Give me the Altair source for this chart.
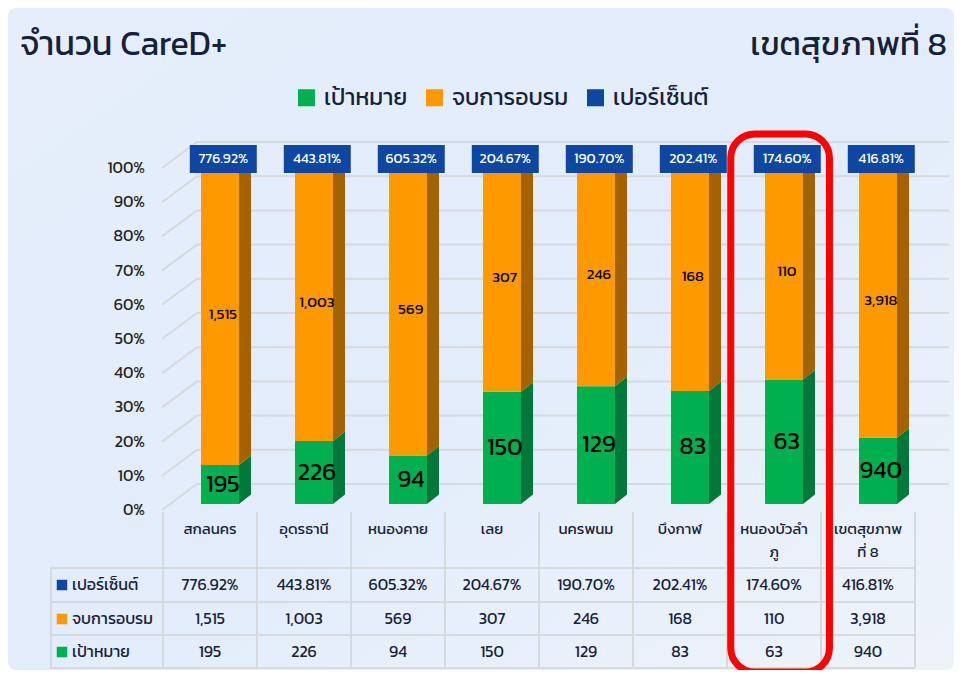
import altair as alt
import pandas as pd

# ---------------- data ----------------
categories = ["สกลนคร", "อุดรธานี", "หนองคาย", "เลย", "นครพนม", "บึงกาฬ", "หนองบัวลำภู", "เขตสุขภาพที่ 8"]
header_labels = ["สกลนคร", "อุดรธานี", "หนองคาย", "เลย", "นครพนม", "บึงกาฬ", "หนองบัวลำ\nภู", "เขตสุขภาพ\nที่ 8"]
target = [195, 226, 94, 150, 129, 83, 63, 940]
trained = [1515, 1003, 569, 307, 246, 168, 110, 3918]
percent = [776.92, 443.81, 605.32, 204.67, 190.70, 202.41, 174.60, 416.81]
series_names = ["เป้าหมาย", "จบการอบรม", "เปอร์เซ็นต์"]
series_colors = ["#00b050", "#ff9900", "#0d47a1"]
side_colors = ["#00783a", "#a56300"]
y_ticks = [0.0, 0.1, 0.2, 0.3, 0.4, 0.5, 0.6, 0.7, 0.8, 0.9, 1.0]
y_tick_labels = ["0%", "10%", "20%", "30%", "40%", "50%", "60%", "70%", "80%", "90%", "100%"]
highlight = "หนองบัวลำภู"
title_left = "จำนวน CareD+"
title_right = "เขตสุขภาพที่ 8"

FONT = "Kanit, 'Noto Sans Thai', 'Noto Sans Thai UI', Sarabun, Loma, 'Noto Sans', sans-serif"
TXT = "#16213a"

# ---------------- layout helpers (page pixel -> scale units) ----------------
W, H = 946, 662
COL0, COLW = 163.0, 94.0     # table first column left edge, column width
Y0, YH = 504.0, 342.0        # page y of 0% on bar face, pixels per 100%


def PX(px):
    return (px - COL0) / COLW


def PY(py):
    return (Y0 - py) / YH


xs = alt.Scale(domain=[PX(8), PX(8 + W)], range=[0, W], nice=False, zero=False)
ys = alt.Scale(domain=[PY(8 + H), PY(8)], range=[H, 0], nice=False, zero=False)

OFF = 10 / COLW      # bar front centre offset from column centre (3D depth)
HW = 19 / COLW       # half width of bar front face
DX = 12 / COLW       # side face width
RISE = 9.5 / YH      # side face rise
BACK = 20 / YH       # back wall offset
FRONT = 6 / YH       # front edge offset

# ---------------- derived tables ----------------
front_rows, side_rows, lab_rows = [], [], []
for i, (g, t) in enumerate(zip(target, trained)):
    gf = g / (g + t)
    c = i + 0.5 + OFF
    segs = [(series_names[0], 0.0, gf, side_colors[0], f"{g:,}", 24),
            (series_names[1], gf, 1.0, side_colors[1], f"{t:,}", 15)]
    for s, (name, lo, hi, sc, lab, fs) in enumerate(segs):
        front_rows.append(dict(series=name, x1=c - HW, x2=c + HW, lo=lo, hi=hi))
        key = f"{i}-{s}"
        side_rows.append(dict(key=key, c=sc, x=c + HW, lo=lo, hi=hi))
        side_rows.append(dict(key=key, c=sc, x=c + HW + DX, lo=lo + RISE, hi=hi + RISE))
        lab_rows.append(dict(x=c + 0.03, y=(lo + hi) / 2, text=lab, fs=fs))
front = pd.DataFrame(front_rows)
side = pd.DataFrame(side_rows)
labs = pd.DataFrame(lab_rows)

box = pd.DataFrame(dict(
    series=series_names[2],
    xc=[i + 0.5 + OFF + 0.035 for i in range(len(categories))],
    text=[f"{p:.2f}%" for p in percent],
))
box["x1"] = box["xc"] - 33.5 / COLW
box["x2"] = box["xc"] + 33.5 / COLW
box["y1"] = 1.0 + 17 / YH
box["y2"] = 1.0 - 11 / YH
box["yt"] = 1.0 + 3 / YH

grid = pd.DataFrame(dict(p=y_ticks, lab=y_tick_labels))
grid["yb"] = grid["p"] + BACK
grid["yf"] = grid["p"] - FRONT
grid["xf"] = PX(162)
grid["xb"] = PX(197)
grid["xe"] = PX(949)
grid["xl"] = PX(145)

# table lines
tl = []
for py in [568, 602, 635, 668]:
    tl.append(dict(x=PX(51), x2=PX(COL0 + COLW * len(categories)), y=PY(py), y2=PY(py)))
for k in range(len(categories) + 1):
    tl.append(dict(x=float(k), x2=float(k), y=PY(512), y2=PY(668)))
tl.append(dict(x=PX(51), x2=PX(51), y=PY(568), y2=PY(668)))
tlines = pd.DataFrame(tl)

hdr = pd.DataFrame(dict(x=[i + 0.5 for i in range(len(categories))], text=header_labels))
hdr["y"] = PY(522)

row_y = [PY(585), PY(619), PY(652)]
row_names = [series_names[2], series_names[1], series_names[0]]
row_cols = [series_colors[2], series_colors[1], series_colors[0]]
cells = []
for r, vals in enumerate([[f"{p:.2f}%" for p in percent], [f"{t:,}" for t in trained], [f"{g:,}" for g in target]]):
    for i, v in enumerate(vals):
        cells.append(dict(x=i + 0.5, y=row_y[r], text=v))
cells = pd.DataFrame(cells)
rowlab = pd.DataFrame(dict(name=row_names, c=row_cols, y=row_y, xs=PX(62), xt=PX(72)))

hi_idx = categories.index(highlight)
hl = pd.DataFrame(dict(x=[hi_idx + 0.04], x2=[hi_idx + 1.09], y=[PY(134)], y2=[PY(672)]))

one = pd.DataFrame({"a": [0]})

legend = alt.Legend(title=None, orient="none", legendX=287, legendY=78, direction="horizontal",
                    symbolType="square", symbolSize=290, symbolStrokeWidth=0, labelFontSize=23,
                    labelFont=FONT, labelColor=TXT, columnPadding=15, labelOffset=6, labelLimit=300)
cscale = alt.Scale(domain=series_names, range=series_colors)

# ---------------- layers ----------------
bg = alt.Chart(one).mark_rect(
    cornerRadius=8,
    color=alt.Gradient(gradient="linear", x1=0, y1=0, x2=1, y2=1,
                       stops=[alt.GradientStop(color="#e6eefb", offset=0),
                              alt.GradientStop(color="#e2ecfb", offset=0.5),
                              alt.GradientStop(color="#eef3fa", offset=1)])
).encode(x=alt.value(0), x2=alt.value(W), y=alt.value(0), y2=alt.value(H))

gcol = "#d6d9de"
back_lines = alt.Chart(grid).mark_rule(color=gcol, strokeWidth=2).encode(
    x=alt.X("xb:Q", scale=xs, axis=None), x2="xe:Q",
    y=alt.Y("yb:Q", scale=ys, axis=None))
slant = alt.Chart(grid).mark_rule(color=gcol, strokeWidth=2).encode(
    x=alt.X("xf:Q", scale=xs, axis=None), x2="xb:Q",
    y=alt.Y("yf:Q", scale=ys, axis=None), y2="yb:Q")
ylabels = alt.Chart(grid).mark_text(align="right", baseline="middle", fontSize=16, font=FONT, color="#222222").encode(
    x=alt.X("xl:Q", scale=xs, axis=None), y=alt.Y("yf:Q", scale=ys, axis=None), text="lab:N")

sides = alt.Chart(side).mark_area(orient="vertical", interpolate="linear").encode(
    x=alt.X("x:Q", scale=xs, axis=None),
    y=alt.Y("lo:Q", scale=ys, axis=None, stack=None), y2="hi:Q",
    detail="key:N", color=alt.Color("c:N", scale=None))
fronts = alt.Chart(front).mark_rect().encode(
    x=alt.X("x1:Q", scale=xs, axis=None), x2="x2:Q",
    y=alt.Y("lo:Q", scale=ys, axis=None), y2="hi:Q",
    color=alt.Color("series:N", scale=cscale, legend=legend))
inlabels = alt.Chart(labs).mark_text(baseline="middle", font=FONT, color="#000000").encode(
    x=alt.X("x:Q", scale=xs, axis=None), y=alt.Y("y:Q", scale=ys, axis=None),
    text="text:N", size=alt.Size("fs:Q", scale=None, legend=None))

boxes = alt.Chart(box).mark_rect().encode(
    x=alt.X("x1:Q", scale=xs, axis=None), x2="x2:Q",
    y=alt.Y("y1:Q", scale=ys, axis=None), y2="y2:Q",
    color=alt.Color("series:N", scale=cscale, legend=legend))
boxtext = alt.Chart(box).mark_text(baseline="middle", fontSize=14, font=FONT, color="white").encode(
    x=alt.X("xc:Q", scale=xs, axis=None), y=alt.Y("yt:Q", scale=ys, axis=None), text="text:N")

tablelines = alt.Chart(tlines).mark_rule(color=gcol, strokeWidth=2).encode(
    x=alt.X("x:Q", scale=xs, axis=None), x2="x2:Q",
    y=alt.Y("y:Q", scale=ys, axis=None), y2="y2:Q")
hdrtext = alt.Chart(hdr).mark_text(baseline="top", fontSize=15, font=FONT, color=TXT, lineBreak="\n", lineHeight=23).encode(
    x=alt.X("x:Q", scale=xs, axis=None), y=alt.Y("y:Q", scale=ys, axis=None), text="text:N")
celltext = alt.Chart(cells).mark_text(baseline="middle", fontSize=16, font=FONT, color=TXT).encode(
    x=alt.X("x:Q", scale=xs, axis=None), y=alt.Y("y:Q", scale=ys, axis=None), text="text:N")
rowsq = alt.Chart(rowlab).mark_square(size=110, opacity=1).encode(
    x=alt.X("xs:Q", scale=xs, axis=None), y=alt.Y("y:Q", scale=ys, axis=None),
    color=alt.Color("c:N", scale=None))
rowtext = alt.Chart(rowlab).mark_text(align="left", baseline="middle", fontSize=16, font=FONT, color=TXT).encode(
    x=alt.X("xt:Q", scale=xs, axis=None), y=alt.Y("y:Q", scale=ys, axis=None), text="name:N")

titles = pd.DataFrame(dict(text=[title_left, title_right], x=[PX(20), PX(947)]))
tleft = alt.Chart(titles.iloc[[0]]).mark_text(align="left", baseline="alphabetic", fontSize=34, font=FONT, color=TXT).encode(
    x=alt.X("x:Q", scale=xs, axis=None), y=alt.value(47), text="text:N")
tright = alt.Chart(titles.iloc[[1]]).mark_text(align="right", baseline="alphabetic", fontSize=33, font=FONT, color=TXT).encode(
    x=alt.X("x:Q", scale=xs, axis=None), y=alt.value(47), text="text:N")

hlrect = alt.Chart(hl).mark_rect(fill=None, fillOpacity=0, stroke="#ff0000", strokeWidth=7, cornerRadius=24).encode(
    x=alt.X("x:Q", scale=xs, axis=None), x2="x2:Q",
    y=alt.Y("y:Q", scale=ys, axis=None), y2="y2:Q")

chart = alt.layer(
    bg, back_lines, slant, ylabels, sides, fronts, inlabels, boxes, boxtext,
    tablelines, hdrtext, celltext, rowsq, rowtext, tleft, tright, hlrect
).properties(
    width=W, height=H, autosize=alt.AutoSizeParams(type="none"), padding=0, background="#ffffff"
).configure_view(stroke=None)

chart.save("out.html", embed_options={"renderer": "svg", "actions": False})
